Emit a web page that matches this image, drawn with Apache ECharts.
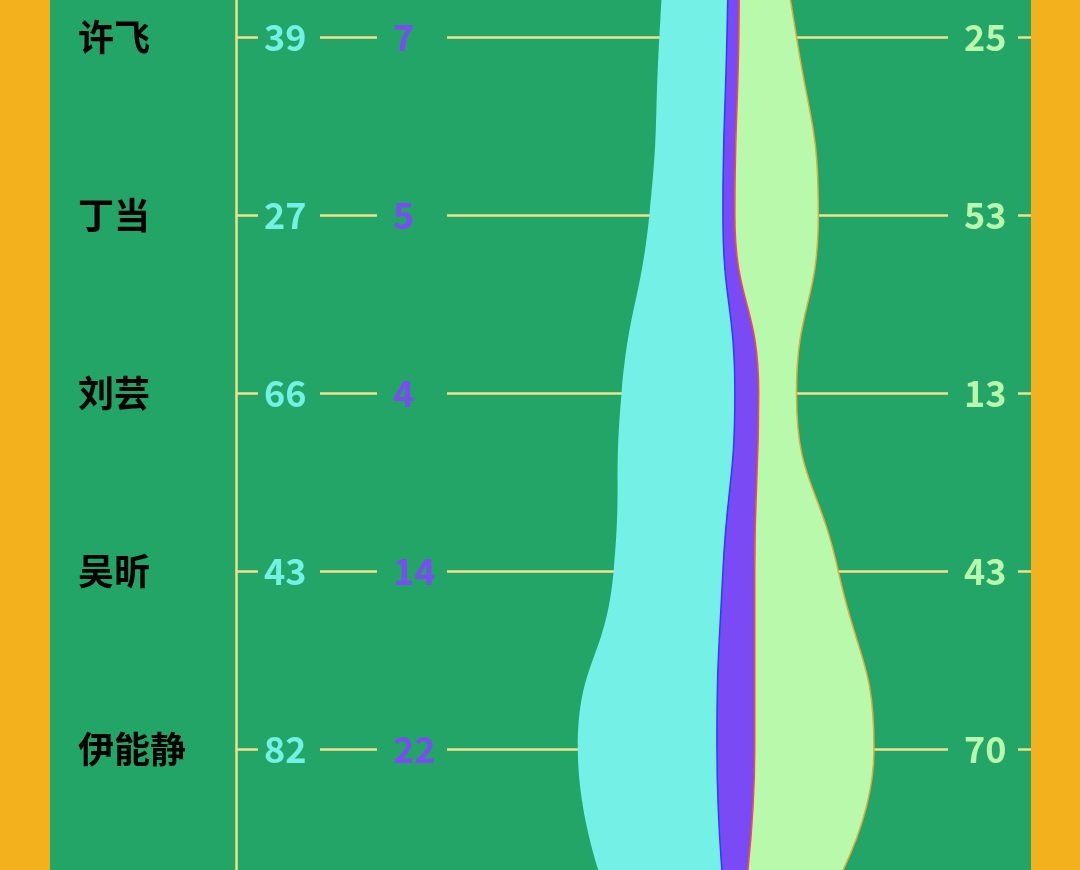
<!DOCTYPE html>
<html>
<head>
<meta charset="utf-8">
<title>河流图</title>
<script src="https://cdn.jsdelivr.net/npm/echarts@6/dist/echarts.min.js"></script>
<style>
html, body { margin: 0; padding: 0; background: #F2B11D; }
#main { width: 1080px; height: 870px; }
</style>
</head>
<body>
<div id="main"></div>
<script>
// 类目（首尾两行在画面之外，只用来延续河流的形状）
var names = [' ', '许飞', '丁当', '刘芸', '吴昕', '伊能静', '  '];

// 每行左边三列数字
var labelA = [null, 39, 27, 66, 43, 82, null];
var labelB = [null, 7, 5, 4, 14, 22, null];
var labelC = [null, 25, 53, 13, 43, 70, null];

// 河流：左边缘偏移 + 三层的宽度
var offset = [218, 213, 208, 194, 190, 172, 193];
var layerA = [31, 34, 37, 57, 55, 70, 54];
var layerB = [5, 6, 6, 12, 16, 19, 7];
var layerC = [11, 29, 42, 19, 42, 60, 35];

var panel = '#22A566';
var cream = '#F1E28E';
var font = 'Noto Sans CJK SC';

function valueAxis(pos, arr, color, margin, width, padLeft) {
    return {
        type: 'category',
        data: names,
        inverse: true,
        boundaryGap: false,
        position: pos,
        z: 1,
        axisLine: { show: false },
        axisTick: { show: false },
        splitLine: { show: false },
        axisLabel: {
            inside: true,
            interval: 0,
            margin: margin,
            align: 'left',
            color: color,
            fontSize: 36,
            fontWeight: 'bold',
            fontFamily: font,
            width: width,
            padding: [2, 0, 2, padLeft],
            backgroundColor: panel,
            formatter: function (v, i) {
                return arr[i] == null ? '' : String(arr[i]);
            }
        }
    };
}

function layer(name, data, fill, line) {
    return {
        name: name,
        type: 'line',
        stack: 'river',
        smooth: true,
        symbol: 'none',
        silent: true,
        data: data,
        lineStyle: { color: line, width: 1.5 },
        areaStyle: { color: fill, opacity: 1 }
    };
}

var myChart = echarts.init(document.getElementById('main'));
var option = {
    backgroundColor: '#F2B11D',
    animation: false,
    graphic: [{
        type: 'rect',
        z: -10,
        shape: { x: 50, y: 0, width: 981, height: 870 },
        style: { fill: panel }
    }],
    grid: { left: 236, right: 49, top: -141, bottom: -57, outerBoundsMode: 'none' },
    xAxis: { type: 'value', min: 0, max: 400, show: false },
    yAxis: [
        {
            type: 'category',
            data: names,
            inverse: true,
            boundaryGap: false,
            position: 'left',
            axisLine: { lineStyle: { color: cream, width: 2.5 } },
            axisTick: { show: false },
            splitLine: { show: true, interval: 0, lineStyle: { color: cream, width: 2.5 } },
            axisLabel: {
                interval: 0,
                margin: 158,
                align: 'left',
                color: '#000',
                fontSize: 36,
                fontWeight: 'bold',
                fontFamily: font
            }
        },
        valueAxis('left', labelA, '#74F0E4', 22, 56, 6),
        valueAxis('left', labelB, '#7B4BF3', 141, 54, 16),
        valueAxis('right', labelC, '#B9F8AC', 83, 54, 16)
    ],
    series: [
        {
            type: 'line',
            stack: 'river',
            smooth: true,
            symbol: 'none',
            silent: true,
            data: offset,
            lineStyle: { opacity: 0 }
        },
        layer('A', layerA, '#74F0E6', '#2A3CFF'),
        layer('B', layerB, '#7A4BF4', '#FF4A3A'),
        layer('C', layerC, '#B9F9AC', '#E7A93A')
    ]
};
myChart.setOption(option);
</script>
</body>
</html>
